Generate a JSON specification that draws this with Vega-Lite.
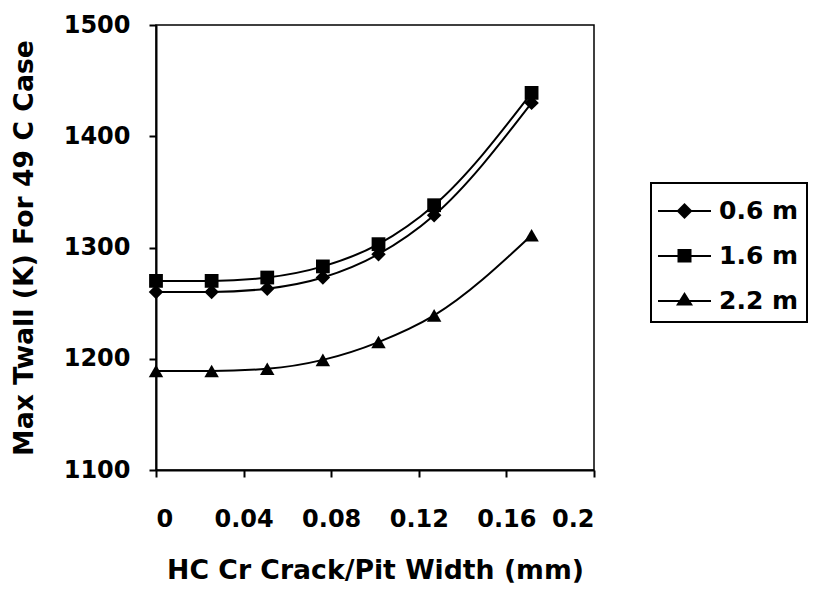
{
  "$schema": "https://vega.github.io/schema/vega-lite/v6.json",
  "autosize": "none",
  "padding": {"left": 156, "top": 25, "right": 221, "bottom": 126},
  "width": 438,
  "height": 445,
  "background": "white",
  "config": {
    "font": "DejaVu Sans",
    "view": {"stroke": "black", "strokeWidth": 1.5},
    "legend": {"strokeWidth": 2},
    "axis": {
      "grid": false,
      "domainColor": "black",
      "domainWidth": 2,
      "tickColor": "black",
      "tickWidth": 2,
      "tickSize": 7,
      "labelFont": "DejaVu Sans",
      "labelFontWeight": "bold",
      "labelFontSize": 24,
      "labelColor": "black",
      "titleFont": "DejaVu Sans",
      "titleFontWeight": "bold",
      "titleFontSize": 26.7,
      "titleColor": "black"
    }
  },
  "data": {
    "values": [
      {"series": "0.6 m", "x": 0, "y": 1260},
      {"series": "0.6 m", "x": 0.0254, "y": 1260},
      {"series": "0.6 m", "x": 0.0508, "y": 1263},
      {"series": "0.6 m", "x": 0.0762, "y": 1273},
      {"series": "0.6 m", "x": 0.1016, "y": 1294},
      {"series": "0.6 m", "x": 0.127, "y": 1329},
      {"series": "0.6 m", "x": 0.1715, "y": 1430},
      {"series": "1.6 m", "x": 0, "y": 1270},
      {"series": "1.6 m", "x": 0.0254, "y": 1270},
      {"series": "1.6 m", "x": 0.0508, "y": 1273},
      {"series": "1.6 m", "x": 0.0762, "y": 1283},
      {"series": "1.6 m", "x": 0.1016, "y": 1303},
      {"series": "1.6 m", "x": 0.127, "y": 1338},
      {"series": "1.6 m", "x": 0.1715, "y": 1439},
      {"series": "2.2 m", "x": 0, "y": 1189},
      {"series": "2.2 m", "x": 0.0254, "y": 1189},
      {"series": "2.2 m", "x": 0.0508, "y": 1191},
      {"series": "2.2 m", "x": 0.0762, "y": 1199},
      {"series": "2.2 m", "x": 0.1016, "y": 1215},
      {"series": "2.2 m", "x": 0.127, "y": 1239},
      {"series": "2.2 m", "x": 0.1715, "y": 1311}
    ]
  },
  "encoding": {
    "x": {
      "field": "x",
      "type": "quantitative",
      "scale": {"domain": [0, 0.2], "nice": false, "zero": false},
      "axis": {
        "values": [0, 0.04, 0.08, 0.12, 0.16, 0.2],
        "format": "~g",
        "labelPadding": 30,
        "titlePadding": 26,
        "title": "HC Cr Crack/Pit Width (mm)"
      }
    },
    "y": {
      "field": "y",
      "type": "quantitative",
      "scale": {"domain": [1100, 1500], "nice": false, "zero": false},
      "axis": {
        "values": [1100, 1200, 1300, 1400, 1500],
        "format": "d",
        "labelPadding": 19,
        "titlePadding": 25,
        "title": "Max Twall (K) For 49 C Case"
      }
    }
  },
  "layer": [
    {
      "mark": {"type": "line", "interpolate": "monotone", "color": "black", "strokeWidth": 2},
      "encoding": {"detail": {"field": "series", "type": "nominal"}}
    },
    {
      "mark": {"type": "point", "filled": true, "color": "black", "opacity": 0},
      "encoding": {
        "shape": {
          "field": "series",
          "type": "nominal",
          "scale": {
            "domain": ["0.6 m", "1.6 m", "2.2 m"],
            "range": [
              "M-1.05,-0.05H1.6V0.05H-1.05ZM-0.125,0L0.275,-0.4L0.675,0L0.275,0.4Z",
              "M-1.05,-0.05H1.6V0.05H-1.05ZM-0.075,-0.35H0.625V0.325H-0.075Z",
              "M-1.05,-0.05H1.6V0.05H-1.05ZM0.275,-0.45L0.7,0.22L-0.15,0.22Z"
            ]
          },
          "legend": {
            "title": null,
            "orient": "none",
            "legendX": 495,
            "legendY": 158,
            "padding": 8,
            "strokeColor": "black",
            "symbolSize": 1600,
            "symbolStrokeWidth": 0,
            "symbolFillColor": "black",
            "symbolOpacity": 1,
            "rowPadding": 12,
            "labelOffset": 20,
            "labelFont": "DejaVu Sans",
            "labelFontWeight": "bold",
            "labelFontSize": 25,
            "labelColor": "black"
          }
        }
      }
    },
    {
      "transform": [{"filter": "datum.series === '0.6 m'"}],
      "mark": {"type": "point", "shape": "diamond", "filled": true, "color": "black", "opacity": 1, "size": 210}
    },
    {
      "transform": [{"filter": "datum.series === '1.6 m'"}],
      "mark": {"type": "point", "shape": "square", "filled": true, "color": "black", "opacity": 1, "size": 190}
    },
    {
      "transform": [{"filter": "datum.series === '2.2 m'"}],
      "mark": {"type": "point", "shape": "triangle-up", "filled": true, "color": "black", "opacity": 1, "size": 210}
    }
  ]
}
